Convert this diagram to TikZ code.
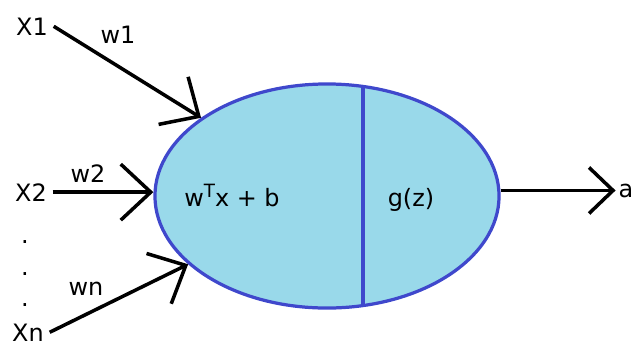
\documentclass[tikz,border=0pt]{standalone}
\usepackage{fontspec}
\setmainfont{DejaVu Sans}
\usetikzlibrary{arrows.meta,positioning,shapes.geometric}
\definecolor{cellfill}{RGB}{153,217,234}
\definecolor{celledge}{RGB}{63,72,204}

\begin{document}
\begin{tikzpicture}[
    x=0.025cm, y=-0.025cm,
    every node/.style={font=\fontsize{17}{20}\selectfont},
    lbl/.style={anchor=base, inner sep=1pt},
    input/.style={anchor=base, inner sep=4pt},
    neuron/.style={ellipse, draw=celledge, fill=cellfill, line width=2.3pt, minimum width=8.6cm, minimum height=5.6cm, inner sep=0pt},
    arrow/.style={-{Straight Barb[length=0.75cm, width=1.4cm]}, line width=2.5pt},
    outarrow/.style={-{Straight Barb[length=0.6cm, width=1.15cm]}, line width=2.5pt}
]
\useasboundingbox (0,0) rectangle (632,345);
\node[neuron] (cell) at (327,196) {};
\draw[celledge, line width=2.3pt] (363,87) -- (363,306);
\node[lbl] (sum) at (232,206) {w\raisebox{0.36em}{\fontsize{13}{15}\selectfont T}x + b};
\node[lbl] (act) at (411,206) {g(z)};
\node[input] (x1) at (32,35) {X1};
\node[lbl] (w1) at (118,43) {w1};
\node[input] (x2) at (31,201) {X2};
\node[lbl] (w2) at (88,182) {w2};
\foreach \y [count=\i] in {243,275,306}
    \node[lbl] (dot\i) at (25,\y) {.};
\node[lbl] (wn) at (86,295) {wn};
\node[input] (xn) at (28,341) {Xn};
\node[anchor=base, inner sep=2pt] (out) at (626,197) {a};
\draw[arrow] (x1.east) -- (cell);
\draw[arrow] (x2.east) -- (x2.east -| cell.west);
\draw[arrow] (xn.east) -- (cell);
\draw[outarrow] (cell.east |- out.west) -- (out.west);
\end{tikzpicture}
\end{document}
